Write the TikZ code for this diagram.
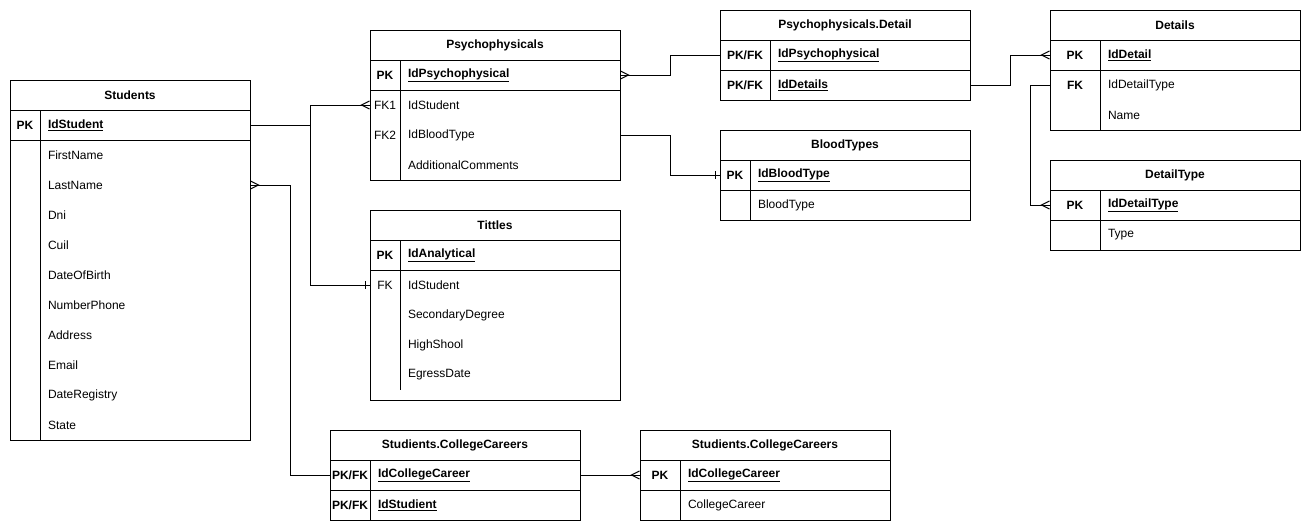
\documentclass[tikz,border=0pt]{standalone}
\usepackage{fontspec}
\setmainfont{Liberation Sans}
\usetikzlibrary{positioning, arrows.meta}

\newcommand{\pkf}[1]{\underline{\textbf{#1}}}

\tikzset{
  hd/.style={anchor=north west, minimum width=250pt, minimum height=30pt, inner sep=0pt, outer sep=0pt, font=\fontsize{12}{14}\selectfont\bfseries},
  kc/.style={minimum width=#1, minimum height=30pt, inner sep=0pt, outer sep=0pt},
  fc/.style={text width=#1, align=left, minimum height=30pt, inner xsep=8pt, inner ysep=0pt, outer sep=0pt},
  many/.style={postaction={draw, -{Straight Barb[reversed, length=8pt, width=8pt]}}},
  one/.style={postaction={draw, -{Bar[width=8pt]}, shorten >=4pt}},
}

\begin{document}
\begin{tikzpicture}[x=1pt, y=-1pt, line width=1pt, font=\fontsize{12}{14}\selectfont]
        \fill[white] (0,0) rectangle (1311,531);
        \useasboundingbox (0,0) rectangle (1311,531);

        % Students
        \node[hd, minimum width=240pt] (stu) at (10,80) {Students};
        \node[kc=30pt, below right=0pt and 0pt of stu.south west] (stu-k1) {\textbf{PK}};
        \node[fc=194pt, right=0pt of stu-k1] (stu-f1) {\pkf{IdStudent}};
        \node[kc=30pt, below=0pt of stu-k1]  (stu-k2)  {};
        \node[fc=194pt, right=0pt of stu-k2]  (stu-f2)  {FirstName};
        \node[kc=30pt, below=0pt of stu-k2]  (stu-k3)  {};
        \node[fc=194pt, right=0pt of stu-k3]  (stu-f3)  {LastName};
        \node[kc=30pt, below=0pt of stu-k3]  (stu-k4)  {};
        \node[fc=194pt, right=0pt of stu-k4]  (stu-f4)  {Dni};
        \node[kc=30pt, below=0pt of stu-k4]  (stu-k5)  {};
        \node[fc=194pt, right=0pt of stu-k5]  (stu-f5)  {Cuil};
        \node[kc=30pt, below=0pt of stu-k5]  (stu-k6)  {};
        \node[fc=194pt, right=0pt of stu-k6]  (stu-f6)  {DateOfBirth};
        \node[kc=30pt, below=0pt of stu-k6]  (stu-k7)  {};
        \node[fc=194pt, right=0pt of stu-k7]  (stu-f7)  {NumberPhone};
        \node[kc=30pt, below=0pt of stu-k7]  (stu-k8)  {};
        \node[fc=194pt, right=0pt of stu-k8]  (stu-f8)  {Address};
        \node[kc=30pt, below=0pt of stu-k8]  (stu-k9)  {};
        \node[fc=194pt, right=0pt of stu-k9]  (stu-f9)  {Email};
        \node[kc=30pt, below=0pt of stu-k9]  (stu-k10) {};
        \node[fc=194pt, right=0pt of stu-k10] (stu-f10) {DateRegistry};
        \node[kc=30pt, below=0pt of stu-k10] (stu-k11) {};
        \node[fc=194pt, right=0pt of stu-k11] (stu-f11) {State};
        \draw (stu.north west) rectangle (stu-f11.south east)
              (stu.south west) -- (stu.south east)
              (stu-k1.south west) -- (stu-f1.south east)
              (stu-k1.north east) -- (stu-k11.south east);

        % Psychophysicals
        \node[hd] (psy) at (370,30) {Psychophysicals};
        \node[kc=30pt, below right=0pt and 0pt of psy.south west] (psy-k1) {\textbf{PK}};
        \node[fc=204pt, right=0pt of psy-k1] (psy-f1) {\pkf{IdPsychophysical}};
        \node[kc=30pt, below=0pt of psy-k1] (psy-k2) {FK1};
        \node[fc=204pt, right=0pt of psy-k2] (psy-f2) {IdStudent};
        \node[kc=30pt, below=0pt of psy-k2] (psy-k3) {FK2};
        \node[fc=204pt, right=0pt of psy-k3] (psy-f3) {IdBloodType};
        \node[kc=30pt, below=0pt of psy-k3] (psy-k4) {};
        \node[fc=204pt, right=0pt of psy-k4] (psy-f4) {AdditionalComments};
        \draw (psy.north west) rectangle (psy-f4.south east)
              (psy.south west) -- (psy.south east)
              (psy-k1.south west) -- (psy-f1.south east)
              (psy-k1.north east) -- (psy-k4.south east);

        % Psychophysicals.Detail
        \node[hd] (pd) at (720,10) {Psychophysicals.Detail};
        \node[kc=50pt, below right=0pt and 0pt of pd.south west] (pd-k1) {\textbf{PK/FK}};
        \node[fc=184pt, right=0pt of pd-k1] (pd-f1) {\pkf{IdPsychophysical}};
        \node[kc=50pt, below=0pt of pd-k1] (pd-k2) {\textbf{PK/FK}};
        \node[fc=184pt, right=0pt of pd-k2] (pd-f2) {\pkf{IdDetails}};
        \draw (pd.north west) rectangle (pd-f2.south east)
              (pd.south west) -- (pd.south east)
              (pd-k1.south west) -- (pd-f1.south east)
              (pd-k1.north east) -- (pd-k2.south east);

        % BloodTypes
        \node[hd] (bt) at (720,130) {BloodTypes};
        \node[kc=30pt, below right=0pt and 0pt of bt.south west] (bt-k1) {\textbf{PK}};
        \node[fc=204pt, right=0pt of bt-k1] (bt-f1) {\pkf{IdBloodType}};
        \node[kc=30pt, below=0pt of bt-k1] (bt-k2) {};
        \node[fc=204pt, right=0pt of bt-k2] (bt-f2) {BloodType};
        \draw (bt.north west) rectangle (bt-f2.south east)
              (bt.south west) -- (bt.south east)
              (bt-k1.south west) -- (bt-f1.south east)
              (bt-k1.north east) -- (bt-k2.south east);

        % Details
        \node[hd] (det) at (1050,10) {Details};
        \node[kc=50pt, below right=0pt and 0pt of det.south west] (det-k1) {\textbf{PK}};
        \node[fc=184pt, right=0pt of det-k1] (det-f1) {\pkf{IdDetail}};
        \node[kc=50pt, below=0pt of det-k1] (det-k2) {\textbf{FK}};
        \node[fc=184pt, right=0pt of det-k2] (det-f2) {IdDetailType};
        \node[kc=50pt, below=0pt of det-k2] (det-k3) {};
        \node[fc=184pt, right=0pt of det-k3] (det-f3) {Name};
        \draw (det.north west) rectangle (det-f3.south east)
              (det.south west) -- (det.south east)
              (det-k1.south west) -- (det-f1.south east)
              (det-k1.north east) -- (det-k3.south east);

        % DetailType
        \node[hd] (dt) at (1050,160) {DetailType};
        \node[kc=50pt, below right=0pt and 0pt of dt.south west] (dt-k1) {\textbf{PK}};
        \node[fc=184pt, right=0pt of dt-k1] (dt-f1) {\pkf{IdDetailType}};
        \node[kc=50pt, below=0pt of dt-k1] (dt-k2) {};
        \node[fc=184pt, right=0pt of dt-k2] (dt-f2) {Type};
        \draw (dt.north west) rectangle (dt-f2.south east)
              (dt.south west) -- (dt.south east)
              (dt-k1.south west) -- (dt-f1.south east)
              (dt-k1.north east) -- (dt-k2.south east);

        % Tittles
        \node[hd] (tit) at (370,210) {Tittles};
        \node[kc=30pt, below right=0pt and 0pt of tit.south west] (tit-k1) {\textbf{PK}};
        \node[fc=204pt, right=0pt of tit-k1] (tit-f1) {\pkf{IdAnalytical}};
        \node[kc=30pt, below=0pt of tit-k1] (tit-k2) {FK};
        \node[fc=204pt, right=0pt of tit-k2] (tit-f2) {IdStudent};
        \node[kc=30pt, below=0pt of tit-k2] (tit-k3) {};
        \node[fc=204pt, right=0pt of tit-k3] (tit-f3) {SecondaryDegree};
        \node[kc=30pt, below=0pt of tit-k3] (tit-k4) {};
        \node[fc=204pt, right=0pt of tit-k4] (tit-f4) {HighShool};
        \node[kc=30pt, below=0pt of tit-k4] (tit-k5) {};
        \node[fc=204pt, right=0pt of tit-k5] (tit-f5) {EgressDate};
        \draw (tit.north west) rectangle ([yshift=-10pt]tit-f5.south east)
              (tit.south west) -- (tit.south east)
              (tit-k1.south west) -- (tit-f1.south east)
              (tit-k1.north east) -- (tit-k5.south east);

        % Studients.CollegeCareers
        \node[hd] (sc) at (330,430) {Studients.CollegeCareers};
        \node[kc=40pt, below right=0pt and 0pt of sc.south west] (sc-k1) {\textbf{PK/FK}};
        \node[fc=194pt, right=0pt of sc-k1] (sc-f1) {\pkf{IdCollegeCareer}};
        \node[kc=40pt, below=0pt of sc-k1] (sc-k2) {\textbf{PK/FK}};
        \node[fc=194pt, right=0pt of sc-k2] (sc-f2) {\pkf{IdStudient}};
        \draw (sc.north west) rectangle (sc-f2.south east)
              (sc.south west) -- (sc.south east)
              (sc-k1.south west) -- (sc-f1.south east)
              (sc-k1.north east) -- (sc-k2.south east);

        % CollegeCareers
        \node[hd] (cc) at (640,430) {Studients.CollegeCareers};
        \node[kc=40pt, below right=0pt and 0pt of cc.south west] (cc-k1) {\textbf{PK}};
        \node[fc=194pt, right=0pt of cc-k1] (cc-f1) {\pkf{IdCollegeCareer}};
        \node[kc=40pt, below=0pt of cc-k1] (cc-k2) {};
        \node[fc=194pt, right=0pt of cc-k2] (cc-f2) {CollegeCareer};
        \draw (cc.north west) rectangle (cc-f2.south east)
              (cc.south west) -- (cc.south east)
              (cc-k1.south west) -- (cc-f1.south east)
              (cc-k1.north east) -- (cc-k2.south east);

        % relations
        \draw[many] (stu-f1.east) -- ++(60,0) |- (psy-k2.west);
        \draw[one]  (stu-f1.east) -- ++(60,0) |- (tit-k2.west);
        \draw[many] (sc-k1.west) -- ++(-40,0) |- (stu-f3.east);
        \draw[many] (pd-k1.west) -- ++(-50,0) |- (psy-f1.east);
        \draw[one]  (psy-f3.east) -- ++(50,0) |- (bt-k1.west);
        \draw[many] (pd-f2.east) -- ++(40,0) |- (det-k1.west);
        \draw[many] (det-k2.west) -- ++(-20,0) |- (dt-k1.west);
        \draw[many] (sc-f1.east) -- (cc-k1.west);
      \end{tikzpicture}
\end{document}
